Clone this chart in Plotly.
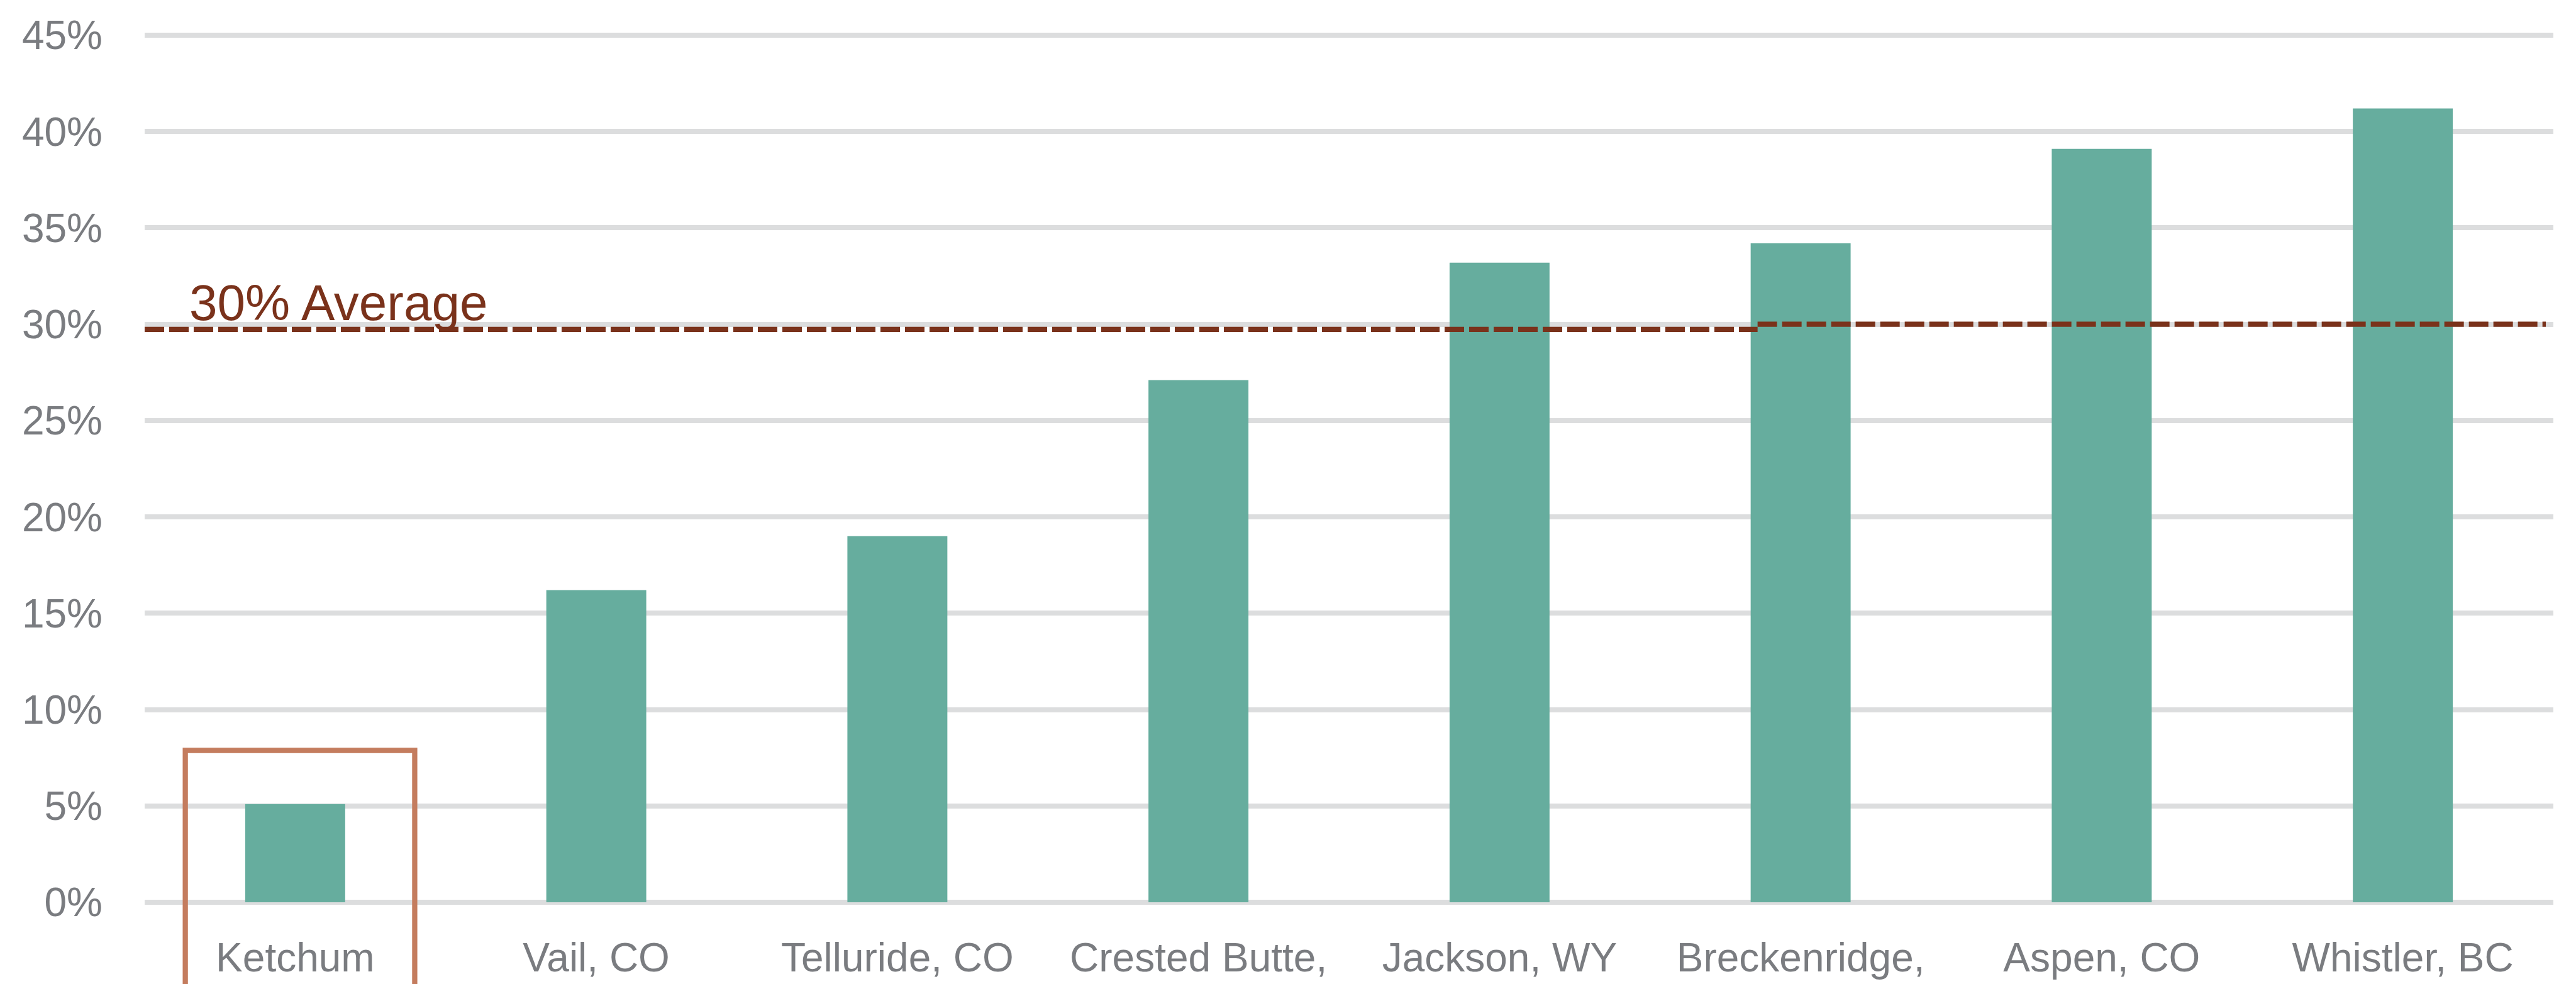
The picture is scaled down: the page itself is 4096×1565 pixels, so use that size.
import plotly.graph_objects as go

# ---- data ----
categories = ["Ketchum", "Vail, CO", "Telluride, CO", "Crested Butte,",
              "Jackson, WY", "Breckenridge,", "Aspen, CO", "Whistler, BC"]
values = [0.051, 0.162, 0.190, 0.271, 0.332, 0.342, 0.391, 0.412]
average_value = 0.30
average_label = "30% Average"
y_tick_values = [0.0, 0.05, 0.10, 0.15, 0.20, 0.25, 0.30, 0.35, 0.40, 0.45]

BAR_COLOR = "#66AD9E"
GRID_COLOR = "#DCDDDE"
AVG_COLOR = "#7A321B"
BOX_COLOR = "#C47C5E"
TEXT_COLOR = "#7A7C80"
FONT = "Liberation Sans, Arial, sans-serif"

fig = go.Figure()
fig.add_trace(go.Bar(
    x=categories, y=values,
    marker=dict(color=BAR_COLOR, line=dict(width=0)),
    width=0.332,
    hoverinfo="skip",
))

n = len(categories)
# average line (drawn slightly stepped as in the source picture)
fig.add_shape(type="line", xref="x", yref="y",
              x0=-0.5, x1=4.857, y0=average_value - 0.0027, y1=average_value - 0.0027,
              line=dict(color=AVG_COLOR, width=8.3, dash="31px,8px"), layer="above")
fig.add_shape(type="line", xref="x", yref="y",
              x0=4.857, x1=7.475, y0=average_value, y1=average_value,
              line=dict(color=AVG_COLOR, width=8.3, dash="31px,8px"), layer="above")

fig.add_annotation(x=-0.355, y=average_value, xref="x", yref="y",
                   text=average_label, showarrow=False,
                   xanchor="left", yanchor="bottom", yshift=-12,
                   font=dict(family=FONT, size=80, color=AVG_COLOR))

# highlight box around first category (extends past bottom of the picture)
fig.add_shape(type="rect", xref="paper", yref="paper",
              x0=(0 + 0.5 - 0.365) / n, x1=(0 + 0.5 + 0.397) / n,
              y0=-0.5, y1=0.0788 / 0.452 + 0.001 / 0.452,
              line=dict(color=BOX_COLOR, width=8.3), fillcolor="rgba(0,0,0,0)",
              layer="above")

fig.update_layout(
    width=4096, height=1565,
    margin=dict(l=230, r=36, t=53, b=127),
    paper_bgcolor="white", plot_bgcolor="white",
    showlegend=False,
    bargap=0.668,
    font=dict(family=FONT, color=TEXT_COLOR, size=64),
    xaxis=dict(
        type="category", range=[-0.5, 7.5],
        showgrid=False, showline=False, zeroline=False, ticks="",
        tickfont=dict(family=FONT, size=64, color=TEXT_COLOR),
        ticklabelstandoff=42,
        automargin=False,
    ),
    yaxis=dict(
        range=[-0.001, 0.451],
        tickvals=y_tick_values, tickformat=".0%",
        showgrid=True, gridcolor=GRID_COLOR, gridwidth=8,
        zeroline=True, zerolinecolor=GRID_COLOR, zerolinewidth=8,
        showline=False, ticks="",
        tickfont=dict(family=FONT, size=64, color=TEXT_COLOR),
        ticklabelstandoff=66,
        automargin=False,
    ),
)

fig.write_html("out.html")
